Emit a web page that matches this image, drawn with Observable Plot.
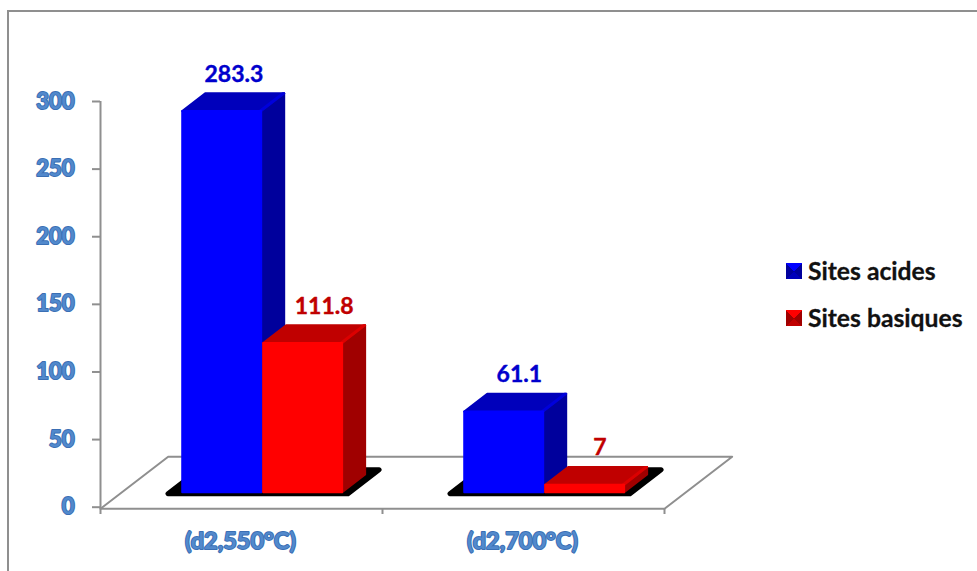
<!DOCTYPE html>
<html>
<head>
<meta charset="utf-8">
<script src="https://cdn.jsdelivr.net/npm/d3@7"></script>
<script src="https://cdn.jsdelivr.net/npm/@observablehq/plot@0.6"></script>
<style>
  html, body { margin: 0; padding: 0; background: #fff; }
  #page { position: relative; width: 977px; height: 571px; overflow: hidden; font-family: Lato, sans-serif; }
  #page svg { position: absolute; left: 0; top: 0; background: transparent; }
  #border { position: absolute; left: 7px; top: 10px; right: -4px; bottom: -4px; border-left: 2px solid #8f8f8f; border-top: 2px solid #8f8f8f; }
  .legend-row { position: absolute; left: 786px; display: flex; align-items: center; font-weight: 700; font-size: 24.7px; color: #111; line-height: 24px; white-space: nowrap; -webkit-text-stroke: 0.3px #111; }
  .swatch { width: 16px; height: 16px; margin-right: 6px; }
</style>
</head>
<body>
<div id="page"><div id="border"></div></div>
<script>
const categories = ["(d2,550°C)", "(d2,700°C)"];
const sitesAcides = [283.3, 61.1];
const sitesBasiques = [111.8, 7];
const yTicks = [0, 50, 100, 150, 200, 250, 300];

const blue = {name: "Sites acides", front: "#0000ff", top: "#0000bb", side: "#00009c", edge: "#0000dc", label: "#0000cc"};
const red = {name: "Sites basiques", front: "#ff0000", top: "#c00000", side: "#a00000", edge: "#dc0000", label: "#c00000"};

// Oblique projection: depth z (0 = front of floor, 1 = back) shifts a point right and up in data units.
const depthX = 0.24;
const depthY = 38.5;
const floorValue = -1.2;
const project = (x, v, z) => ({x: x + z * depthX, y: v + z * depthY});

const barFrontZ = 0.25, barBackZ = 0.63;
const barOffset = 0.2215, barWidth = 0.287;
// Each face is pulled in slightly so that its rounded stroke ends on the true outline.
const insetX = 0.0035, insetV = 0.75, insetZ = 0.02;

const faces = [];
const shadows = [];
const addFace = (target, id, color, corners) =>
  corners.forEach(([x, v, z]) => target.push({id, color, ...project(x, v, z)}));

categories.forEach((c, i) => {
  // black footprint under each pair of bars
  addFace(shadows, `shadow-${i}`, "#000", [
    [i + 0.177, 0, 0.26], [i + 0.815, 0, 0.26], [i + 0.815, 0, 0.72], [i + 0.177, 0, 0.72]
  ]);
  [[blue, sitesAcides[i]], [red, sitesBasiques[i]]].forEach(([s, value], k) => {
    const l = i + barOffset + k * barWidth + insetX;
    const r = l + barWidth - 2 * insetX;
    const f = barFrontZ + insetZ, b = barBackZ - insetZ;
    const v0 = insetV, v = value - insetV;
    addFace(faces, `${c}-${k}-side`, s.side, [[r, v0, f], [r, v0, b], [r, v, b], [r, v, f]]);
    addFace(faces, `${c}-${k}-top`, s.top, [[l, v, f], [r, v, f], [r, v, b], [l, v, b]]);
    addFace(faces, `${c}-${k}-edge`, s.edge, [[r - 0.006, v, f], [r, v, f], [r, v, b], [r - 0.006, v, b]]);
    addFace(faces, `${c}-${k}-front`, s.front, [[l, v0, f], [r, v0, f], [r, v, f], [l, v, f]]);
  });
});

const floor = [[0, 0], [0, 1], [2, 1], [2, 0]].map(([x, z]) => project(x, floorValue, z));

// Value labels sit above the back edge of each bar's top face.
const labelNudge = [[-0.003, 0.03], [0.009, 0.008]];
const labels = categories.flatMap((c, i) => [
  {value: sitesAcides[i], s: blue, k: 0},
  {value: sitesBasiques[i], s: red, k: 1}
].map(d => ({
  text: String(d.value),
  color: d.s.label,
  x: i + barOffset + (d.k + 0.5) * barWidth + barFrontZ * depthX + 0.051 + labelNudge[i][d.k],
  y: d.value + barBackZ * depthY
})));

const tickStyle = {fill: "#5289cc", stroke: "#3a6fb4", strokeWidth: 2, fontWeight: 700, fontFamily: "Lato, sans-serif"};

const chart = Plot.plot({
  width: 977,
  height: 571,
  marginLeft: 100,
  marginRight: 313,
  marginTop: 101,
  marginBottom: 63,
  x: {type: "linear", domain: [0, 2], range: [100, 664], axis: null},
  y: {type: "linear", domain: [0, 300], range: [506.7, 101], axis: null},
  marks: [
    Plot.line(floor, {x: "x", y: "y", stroke: "#8f8f8f", strokeWidth: 2, curve: "linear"}),
    Plot.ruleX([0], {y1: floorValue, y2: 300, stroke: "#8f8f8f", strokeWidth: 2}),
    Plot.ruleY([floorValue], {x1: 0, x2: 2, stroke: "#8f8f8f", strokeWidth: 2}),
    Plot.axisY({ticks: yTicks, anchor: "left", tickSize: 8, tickPadding: 18, stroke: "#8f8f8f", strokeWidth: 2, label: null,
      textStroke: tickStyle.stroke, textStrokeWidth: tickStyle.strokeWidth, fill: tickStyle.fill,
      fontWeight: tickStyle.fontWeight, fontSize: 22, fontFamily: tickStyle.fontFamily}),
    Plot.axisX({ticks: [0, 1, 2], anchor: "bottom", tickSize: 6, tickFormat: () => "", stroke: "#8f8f8f", strokeWidth: 2, label: null}),
    Plot.line(shadows, {x: "x", y: "y", z: "id", fill: "color", stroke: "color", strokeWidth: 5, strokeLinejoin: "round", curve: "linear-closed"}),
    Plot.line(faces, {x: "x", y: "y", z: "id", fill: "color", stroke: "color", strokeWidth: 2, strokeLinejoin: "round", curve: "linear-closed"}),
    Plot.text(labels, {x: "x", y: "y", text: "text", fill: "color", stroke: "color", strokeWidth: 0.4, dy: -17, fontWeight: 700, fontSize: 23, fontFamily: "Lato, sans-serif"}),
    Plot.text(categories, {x: (d, i) => i + 0.496, y: () => floorValue, text: d => d, dy: 33, fontSize: 23.5, ...tickStyle})
  ]
});

const page = document.getElementById("page");
page.appendChild(chart);

// Legend entries are placed beside the plot area.
[[blue, 259], [red, 306]].forEach(([s, top]) => {
  const row = document.createElement("div");
  row.className = "legend-row";
  row.style.top = top + "px";
  const sw = document.createElement("span");
  sw.className = "swatch";
  sw.style.background = `conic-gradient(from -45deg, ${s.front} 0 25%, ${s.side} 25% 50%, ${s.top} 50% 75%, ${s.side} 75%)`;
  row.appendChild(sw);
  row.appendChild(document.createTextNode(s.name));
  page.appendChild(row);
});
</script>
</body>
</html>
